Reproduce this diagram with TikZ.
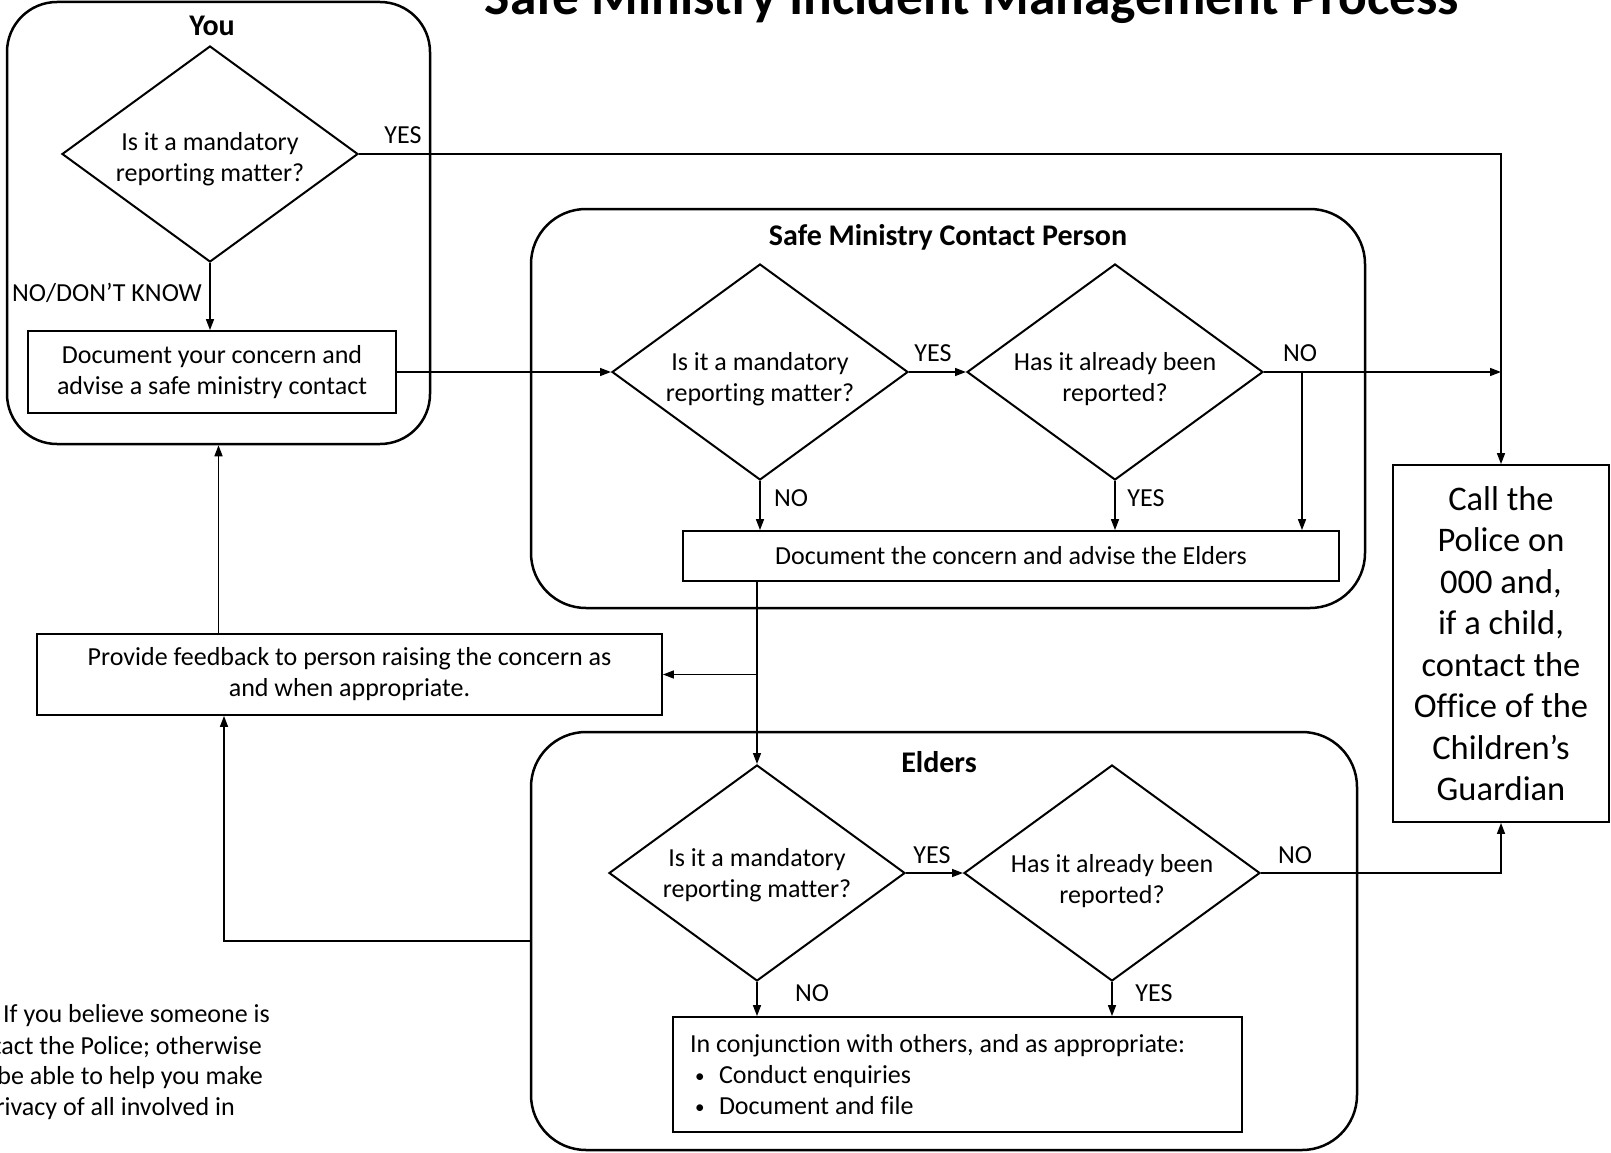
\documentclass[tikz,border=0pt]{standalone}
\usepackage{fontspec}
\setmainfont{Carlito}[Ligatures=CommonOff]
\usetikzlibrary{shapes.geometric,arrows.meta,calc}
\newcommand{\dtxt}[3]{\raisebox{-#1}[\height][\depth]{\begin{tabular}{@{}c@{}}#2\\#3\end{tabular}}}
\newcommand{\smbul}{\makebox[29pt][l]{\hspace{5pt}\raisebox{1pt}{\fontsize{19}{19}\selectfont\textbullet}}}
\begin{document}
\begin{tikzpicture}[x=1pt,y=-1pt,
  every node/.style={font=\fontsize{26}{31}\selectfont},
  grp/.style={draw,rectangle,line width=2.5pt,rounded corners=55pt,inner sep=0pt},
  dia/.style={draw,diamond,line width=2pt,inner sep=0pt,minimum width=296pt,minimum height=216pt,align=center,aspect=1.37},
  boxn/.style={draw,rectangle,line width=1.8pt,align=center,inner sep=0pt},
  conn/.style={line width=1.5pt},
  arr/.style={conn,-{Triangle[length=11pt,width=8pt]}},
  lab/.style={inner sep=0pt},
  ttl/.style={inner sep=0pt,font=\fontsize{30}{36}\selectfont\bfseries},
  note/.style={inner sep=0pt,anchor=east}
]
\useasboundingbox (0,0) rectangle (1611,1153);

% title
\node[inner sep=0pt,anchor=base,font=\fontsize{53.5}{60}\selectfont\bfseries] (title) at (972,15) {Safe Ministry Incident Management Process};

% group containers
\node[grp,minimum width=423pt,minimum height=442pt,rounded corners=50pt] (youbox) at (218.5,223) {};
\node[grp,minimum width=834pt,minimum height=399pt] (smcbox) at (948,408.5) {};
\node[grp,minimum width=826pt,minimum height=418pt] (eldbox) at (944,941) {};

\node[ttl] (youttl) at (212,26) {You};
\node[ttl] (smcttl) at (948,237) {Safe Ministry Contact Person};
\node[ttl] (eldttl) at (939,762) {Elders};

% You
\node[dia] (youd) at (210,154) {\dtxt{6pt}{Is it a mandatory}{reporting matter?}};
\node[boxn,minimum width=368pt,minimum height=82pt] (youdoc) at (212,372) {Document your concern and\\advise a safe ministry contact};

% SMC
\node[dia] (smcd1) at (760,372) {\dtxt{8pt}{Is it a mandatory}{reporting matter?}};
\node[dia] (smcd2) at (1115,372) {\dtxt{8pt}{Has it already been}{reported?}};
\node[boxn,minimum width=656pt,minimum height=50pt] (smcdoc) at (1011,556) {Document the concern and advise the Elders};

% feedback
\node[boxn,minimum width=625pt,minimum height=81pt] (fb) at (349.5,674.5) {Provide feedback to person raising the concern as\\and when appropriate.};

% Elders
\node[dia] (eld1) at (757,873) {\dtxt{2.5pt}{Is it a mandatory}{reporting matter?}};
\node[dia] (eld2) at (1112,873) {\dtxt{8.5pt}{Has it already been}{reported?}};
\node[boxn,minimum width=569pt,minimum height=115pt,align=flush left,text width=535pt] (eldact) at (957.5,1074.5) {In conjunction with others, and as appropriate:\\
\smbul Conduct enquiries\\
\smbul Document and file};

% Call box
\node[boxn,minimum width=216pt,minimum height=357pt,font=\fontsize{34.5}{41.5}\selectfont] (call) at (1501,643.5) {Call the\\Police on\\000 and,\\if a child,\\contact the\\Office of the\\Children’s\\Guardian};

% note (cut off at left)
\node[note] (n1) at (270,1016) {If you believe someone is};
\node[note] (n2) at (262,1047) {tact the Police; otherwise};
\node[note] (n3) at (263,1078) {be able to help you make};
\node[note] (n4) at (235,1109) {rivacy of all involved in};

% coordinates
\coordinate (jn) at (call.north |- smcd2.east);
\coordinate (br) at (1302,372);
\coordinate (fbj) at (eld1.north |- fb.east);
\coordinate (fbx) at (224,0);

% connectors
\draw[arr] (youd.south) -- (youd.south |- youdoc.north);
\draw[arr] (youd.east) -| (call.north);
\draw[arr] (youdoc.east) -- (youdoc.east -| smcd1.west);
\draw[arr] (smcd1.east) -- (smcd2.west);
\draw[arr] (smcd2.east) -- (jn);
\draw[arr] (br) -- (br |- smcdoc.north);
\draw[arr] (smcd1.south) -- (smcd1.south |- smcdoc.north);
\draw[arr] (smcd2.south) -- (smcd2.south |- smcdoc.north);
\draw[arr] (smcdoc.south -| eld1.north) -- (eld1.north);
\draw[arr] (fbj) -- (fb.east);
\draw[arr] (fb.north -| youbox.south) -- (youbox.south);
\draw[arr] (eldbox.west) -| (fb.south -| fbx);
\draw[arr] (eld1.east) -- (eld2.west);
\draw[arr] (eld1.south) -- (eld1.south |- eldact.north);
\draw[arr] (eld2.south) -- (eld2.south |- eldact.north);
\draw[arr] (eld2.east) -| (call.south);

% labels
\node[lab] (l1) at (403,135) {YES};
\node[lab,anchor=east] (l2) at (202,293) {NO/DON’T KNOW};
\node[lab] (l3) at (933,353) {YES};
\node[lab] (l4) at (1300,353) {NO};
\node[lab] (l5) at (791,498) {NO};
\node[lab] (l6) at (1146,498) {YES};
\node[lab] (l7) at (932,855) {YES};
\node[lab] (l8) at (1295,855) {NO};
\node[lab] (l9) at (812,993) {NO};
\node[lab] (l10) at (1154,993) {YES};
\end{tikzpicture}
\end{document}
